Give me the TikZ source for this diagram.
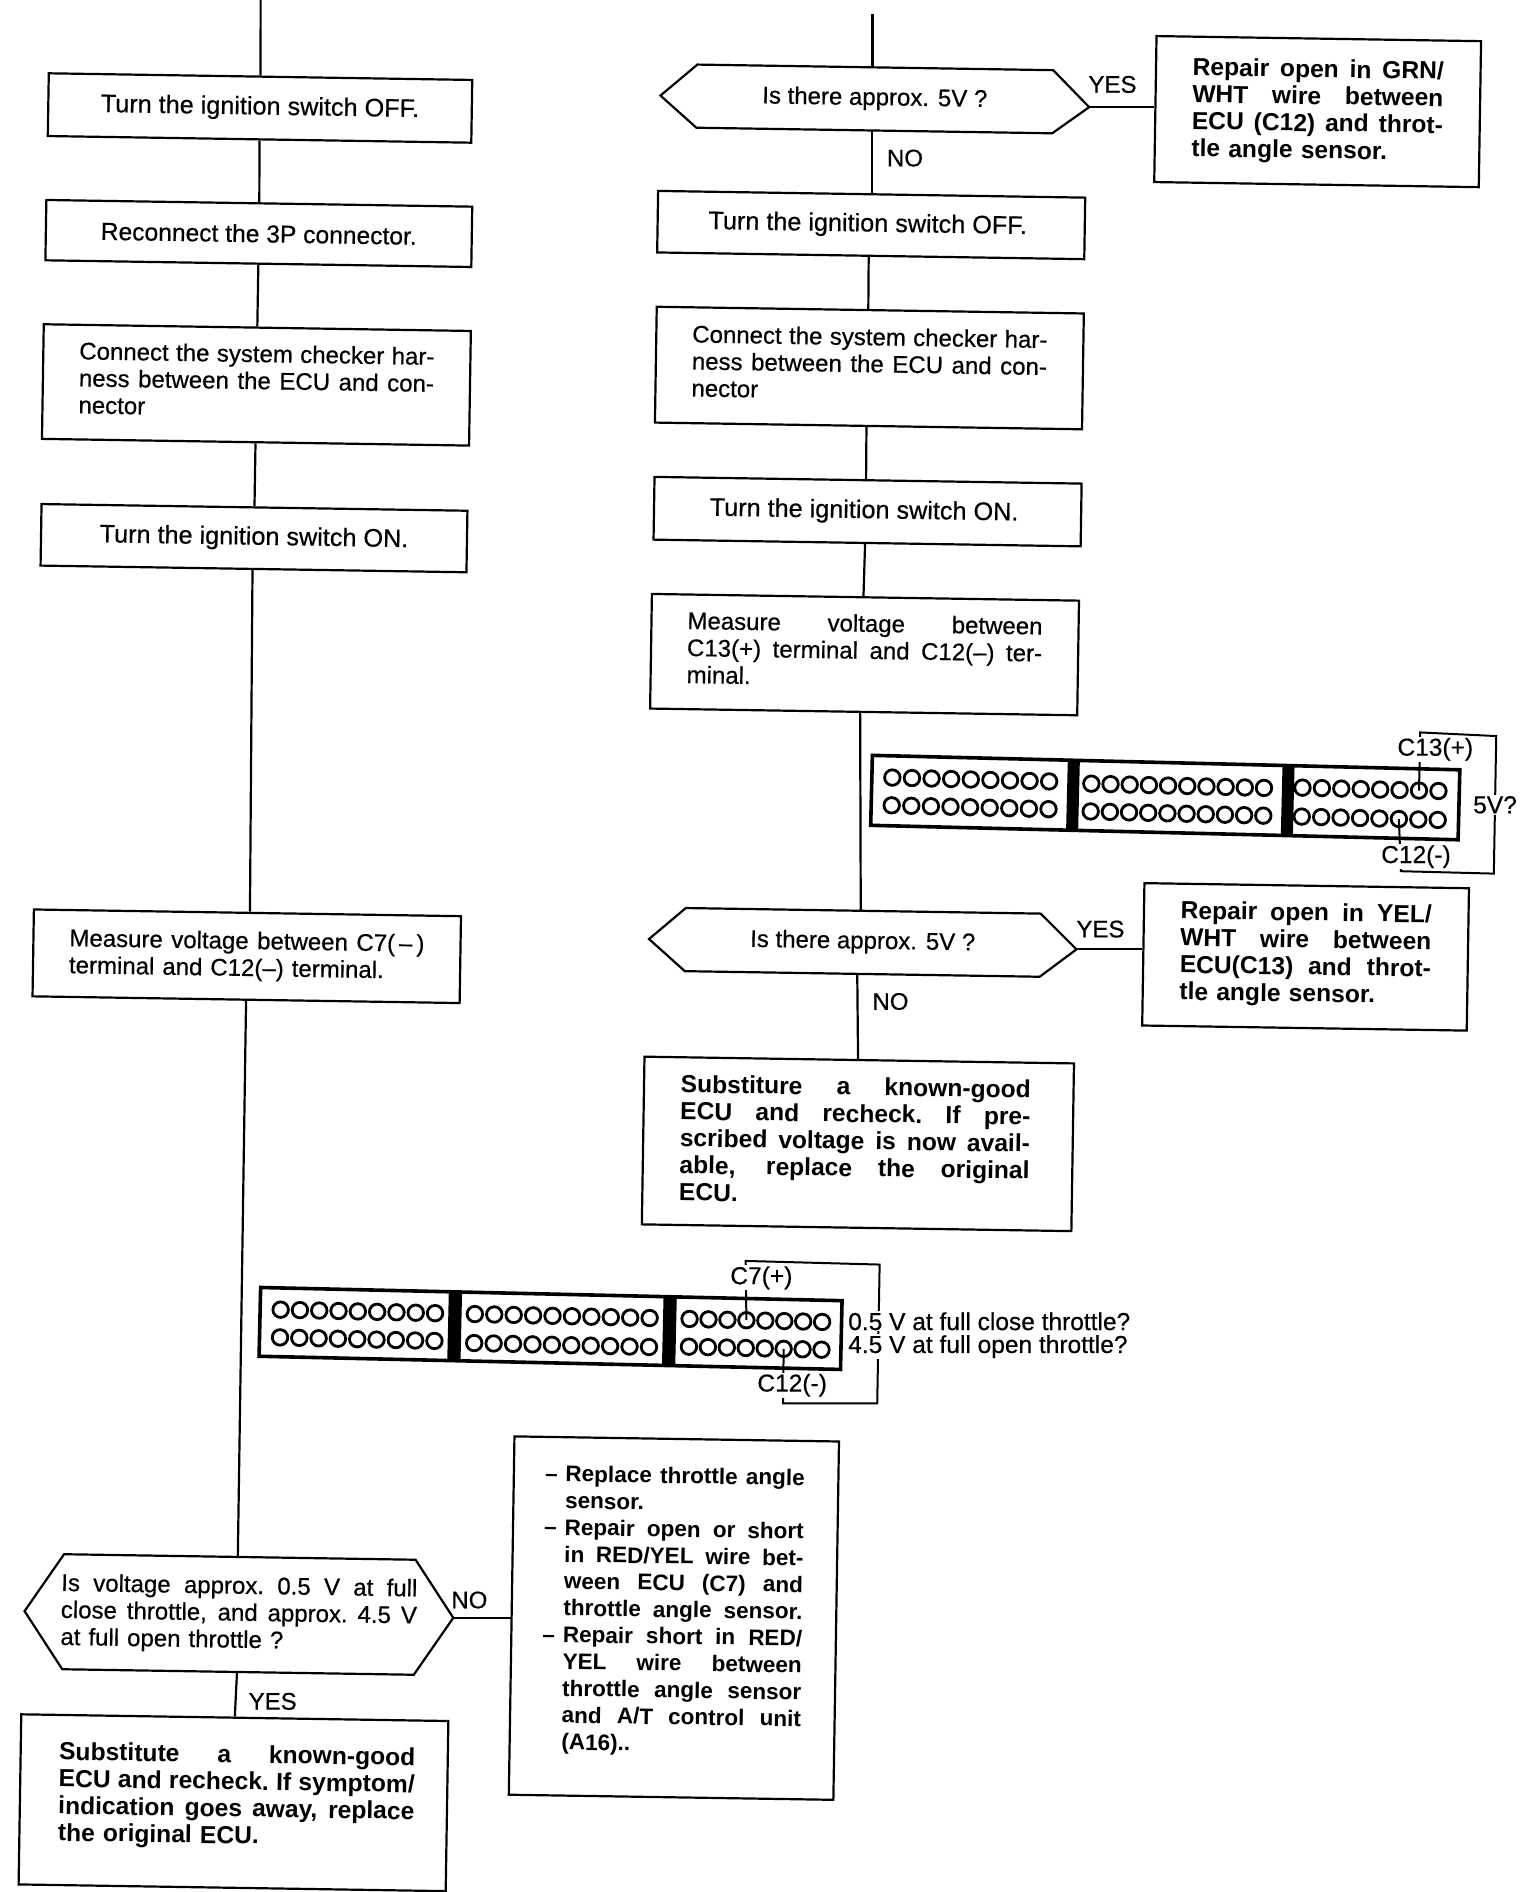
\documentclass[tikz,border=0pt]{standalone}
\usepackage{fontspec}
\setmainfont{Liberation Sans}
\newfontfamily\heavyface[FakeBold=0.5]{Liberation Sans}
\usetikzlibrary{calc}
\newcommand\regf{\fontsize{24}{27}\heavyface}
\newcommand\bigf{\fontsize{25.2}{27}\heavyface}
\newcommand\midf{\fontsize{24.6}{27}\heavyface}
\newcommand\bldf{\fontsize{24.6}{27}\selectfont\bfseries}
\newcommand\cenf{\fontsize{22.5}{26.8}\selectfont\bfseries}
\newcommand\lblf{\fontsize{24.5}{24}\heavyface}
\newcommand\sglue{\spaceskip=.278em plus 1em minus .1em\relax\xspaceskip=\spaceskip}
\newcommand\jl[1]{\makebox[\hsize][s]{\sglue #1}\\}
\newcommand\jo[2]{\hspace*{#1}\makebox[\hsize][s]{\sglue #2}\\}
\newcommand\cl[1]{\hspace*{20.5pt}\makebox[239pt][s]{\sglue #1}\\}
\newcommand\dl[1]{\makebox[20.5pt][l]{–}\makebox[239pt][s]{\sglue #1}\\}
\newcommand\pl[1]{\hspace*{20.5pt}#1\\}
% hexagon outline through the anchors of a rectangle node; #3 lowers the east vertex
\newcommand\hexo[3]{\draw[line width=2.2pt,line join=miter] (#1.west)
  -- ($(#1.north west)!#2!(#1.north east)$)
  -- ($(#1.north east)!#2!(#1.north west)$)
  -- ($(#1.east)+(0,#3)$)
  -- ($(#1.south east)!#2!(#1.south west)$)
  -- ($(#1.south west)!#2!(#1.south east)$) -- cycle;}
% a row of terminals: prefix, local x of first, spacing, count, local y
\newcommand\pins[5]{\foreach \i in {1,...,#4}{%
  \node[pin] (#1\i) at ({#2+(\i-1)*#3},#5) {};}}
\tikzset{
  box/.style={draw,line width=2.2pt,rotate=-0.9,inner sep=0pt,align=center},
  sz/.style 2 args={minimum width=#1*1.2063pt,minimum height=#2*1.2063pt},
  hexbox/.style={rotate=-0.9,inner sep=0pt,align=center},
  link/.style={line width=2.2pt},
  lab/.style={font=\regf,inner sep=0pt},
  pin/.style={circle,draw,line width=2.8pt,minimum size=15.5pt,inner sep=0pt},
  wire/.style={line width=2pt,line join=miter},
  tag/.style={font=\lblf,inner sep=1pt,fill=white},
}
\begin{document}
\begin{tikzpicture}[x=1.2063pt,y=-1.2063pt,font=\regf]
\useasboundingbox (0,0) rectangle (1260,1568);
\fill[white] (0,0) rectangle (1260,1568);
% left column
\coordinate (ltop) at (216,0);
\node[box,sz={351}{52},font=\bigf] (L1) at (215.5,89.5) {Turn the ignition switch OFF.};
\node[box,sz={353}{50},font=\midf] (L2) at (214.5,193.5) {Reconnect the 3P connector.};
\node[box,sz={354}{95},text width=355pt,align=left] (L3) at (212.5,319) {\jl{Connect the system checker har-}\jl{ness between the ECU and con-}nector\\[-18pt]\mbox{}};
\node[box,sz={353}{51},font=\bigf] (L4) at (210.5,446) {Turn the ignition switch ON.};
\node[box,sz={354}{72},text width=355pt,align=left] (L5) at (204.5,792.5) {\jl{Measure voltage between C7(\,–\,)}terminal and C12(–) terminal.\\[-22pt]\mbox{}};
\node[hexbox,sz={355}{95},text width=356pt,align=left] (L6) at (198,1338) {\jl{Is voltage approx. 0.5 V at full}\jl{close throttle, and approx. 4.5 V}at full open throttle ?};
\hexo{L6}{0.09}{0}
\node[box,sz={354}{141},font=\bldf,text width=356pt,align=left] (L7) at (193.5,1494) {\jo{3pt}{Substitute a known-good}\jo{3pt}{ECU and recheck. If symptom/}\jo{3pt}{indication goes away, replace}\hspace*{3pt}the original ECU.\\[-10pt]\mbox{}};
% right column
\coordinate (rtop) at (723,12);
\node[hexbox,sz={355}{52}] (R1) at (725,82) {Is there approx. 5V ?};
\hexo{R1}{0.085}{4}
\coordinate (R1e) at ($(R1.east)+(0,4)$);
\node[box,sz={269}{121},font=\bldf,text width=251pt,align=left] (Y1) at (1092,92.5) {\jl{Repair open in GRN/}\jl{WHT wire between}\jl{ECU (C12) and throt-}tle angle sensor.};
\node[box,sz={354}{51},font=\bigf] (R2) at (722,186.5) {\hspace*{-7pt}Turn the ignition switch OFF.};
\node[box,sz={354}{96},text width=355pt,align=left] (R3) at (720.5,305) {\jl{Connect the system checker har-}\jl{ness between the ECU and con-}nector\\[-18pt]\mbox{}};
\node[box,sz={354}{52},font=\bigf] (R4) at (719,424) {\hspace*{-7pt}Turn the ignition switch ON.};
\node[box,sz={354}{95},text width=355pt,align=left] (R5) at (716.5,542.5) {\jl{Measure voltage between}\jl{C13(+) terminal and C12(–) ter-}minal.\\[-18pt]\mbox{}};
\node[hexbox,sz={354}{52}] (R6) at (715,781) {Is there approx. 5V ?};
\hexo{R6}{0.085}{3}
\coordinate (R6e) at ($(R6.east)+(0,3)$);
\node[box,sz={269}{118},font=\bldf,text width=251pt,align=left] (Y2) at (1082,793) {\jl{Repair open in YEL/}\jl{WHT wire between}\jl{ECU(C13) and throt-}tle angle sensor.\\[-18pt]\mbox{}};
\node[box,sz={356}{139},font=\bldf,text width=350pt,align=left] (R7) at (711,948) {\jo{-3pt}{Substiture a known-good}\jo{-3pt}{ECU and recheck. If pre-}\jo{-3pt}{scribed voltage is now avail-}\jo{-3pt}{able, replace the original}\hspace*{-3pt}ECU.\\[-20pt]\mbox{}};
% middle box
\node[box,sz={269}{297},font=\cenf,text width=262pt,align=left] (M) at (558.5,1341) {\dl{Replace throttle angle}\pl{sensor.}\dl{Repair open or short}\cl{in RED/YEL wire bet-}\cl{ween ECU (C7) and}\cl{throttle angle sensor.}\dl{Repair short in RED/}\cl{YEL wire between}\cl{throttle angle sensor}\cl{and A/T control unit}\hspace*{20.5pt}(A16)..\\[-9pt]\mbox{}};
% flow links
\draw[link] (ltop) -- (L1.north);
\draw[link] (L1.south) -- (L2.north);
\draw[link] (L2.south) -- (L3.north);
\draw[link] (L3.south) -- (L4.north);
\draw[link] ([xshift=-1pt]L4.south) -- ([xshift=2.5pt]L5.north);
\draw[link] (L5.south) -- ([xshift=-2pt]L6.north);
\draw[link] ([xshift=-1pt]L6.south) -- (L7.north);
\draw[link] (L6.east) -- (L6.east -| M.west);
\draw[link] (rtop) -- (rtop |- R1.north);
\draw[link] (R2.north |- R1.south) -- (R2.north);
\draw[link] (R1e) -- (R1e -| Y1.west);
\draw[link] ([xshift=-2pt]R2.south) -- ([xshift=-2pt]R3.north);
\draw[link] ([xshift=-2pt]R3.south) -- ([xshift=-2pt]R4.north);
\draw[link] ([xshift=-2pt]R4.south) -- ([xshift=-2pt]R5.north);
\draw[link] ([xshift=-3.5pt]R5.south) -- ([xshift=-2.5pt]R6.north);
\draw[link] ([xshift=-5pt]R6.south) -- ([xshift=-1.2pt]R7.north);
\draw[link] (R6e) -- (R6e -| Y2.west);
% link labels
\node[lab] (t1) at (922,70) {YES};
\node[lab] (t2) at (750,131) {NO};
\node[lab] (t3) at (912,770) {YES};
\node[lab] (t4) at (738,830) {NO};
\node[lab] (t5) at (389,1326) {NO};
\node[lab] (t6) at (226,1410) {YES};
% upper connector
\begin{scope}[shift={(723,626)},rotate=-1.41]
  \draw[line width=3.6pt,fill=white] (0,0) rectangle (487,58);
  \fill (162,0) rectangle (172,58);
  \fill (340,0) rectangle (350,58);
  \pins{ua}{17}{16.25}{9}{18}
  \pins{ub}{17}{16.25}{9}{41}
  \pins{uc}{182}{15.9}{10}{19}
  \pins{ud}{182}{15.9}{10}{42}
  \pins{ue}{357}{16.1}{8}{18}
  \pins{uf}{357}{16.1}{8}{42}
\end{scope}
\coordinate (u1) at (1177,607);
\coordinate (u2) at (1240,610);
\coordinate (u3) at (1238,724);
\coordinate (u4) at (1161,722);
\draw[wire] (ue7.center) -- (u1) -- (u2) -- (u3) -- (u4) -- (uf6.center);
\node[tag] (c13) at (1189.5,621) {C13(+)};
\node[tag] (c12a) at (1173.5,710) {C12(-)};
\node[tag] (v5) at (1239,667) {5V?};
% lower connector
\begin{scope}[shift={(216,1067)},rotate=-1.3]
  \draw[line width=3.6pt,fill=white] (0,0) rectangle (482,57);
  \fill (156,0) rectangle (167,57);
  \fill (334,0) rectangle (345,57);
  \pins{la}{17}{16}{9}{18}
  \pins{lb}{17}{16}{9}{41}
  \pins{lc}{178}{16.1}{10}{18}
  \pins{ld}{178}{16.1}{10}{42}
  \pins{le}{356}{15.7}{8}{18}
  \pins{lf}{356}{15.7}{8}{41}
\end{scope}
\coordinate (l1) at (618,1045);
\coordinate (l2) at (729,1048);
\coordinate (l3) at (727,1163);
\coordinate (l4) at (649,1163);
\draw[wire] (le4.center) -- (l1) -- (l2) -- (l3) -- (l4) -- (lf6.center);
\node[tag] (c7) at (631,1059) {C7(+)};
\node[tag] (c12b) at (656.5,1148) {C12(-)};
\node[tag,anchor=west] (q1) at (702,1095) {0.5 V at full close throttle?};
\node[tag,anchor=west] (q2) at (702,1116) {4.5 V at full open throttle?};
\end{tikzpicture}
\end{document}
